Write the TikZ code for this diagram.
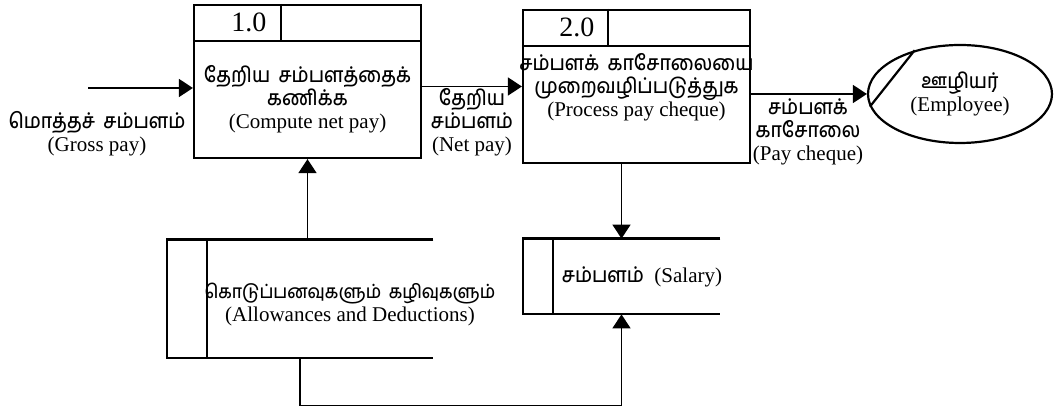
\documentclass[tikz,border=0pt]{standalone}
\usepackage{fontspec}
\setmainfont{Liberation Serif}
\newfontfamily\tamil[Script=Tamil,FakeStretch=0.9,WordSpace=1.8,UprightFont=* Medium]{Hind Madurai}
\usetikzlibrary{arrows.meta,shapes.geometric,calc,positioning}
\tikzstyle{process}=[draw,line width=1.1pt,minimum width=113.5pt,minimum height=76.5pt,inner sep=0pt]
\tikzstyle{store}=[inner sep=0pt]
\tikzstyle{flow}=[line width=0.8pt,-{Triangle[length=7pt,width=9pt]}]
\tikzstyle{flowtext}=[align=center,inner sep=0pt,font=\fontsize{10.5}{11.5}\selectfont]
\newcommand{\drawheader}[3]{
% header strip of a process box: #2 = width of number cell
\draw[line width=1.1pt] ([yshift=-18.5pt]#1.north west) -- ([yshift=-18.5pt]#1.north east);
\draw[line width=1.1pt] ([xshift=#2]#1.north west) -- ([xshift=#2,yshift=-18.5pt]#1.north west);
\node[font=\fontsize{14}{14}\selectfont,xshift=6pt] (#1num) at ($(#1.north west)!0.5!([xshift=#2,yshift=-18.5pt]#1.north west)$) {#3};
}
\newcommand{\drawstore}[2]{
\draw[line width=1.1pt] (#1.north east) -- (#1.north west) -- (#1.south west) -- (#1.south east);
\draw[line width=1.1pt] ([xshift=#2]#1.north west) -- ([xshift=#2]#1.south west);
}

\begin{document}
\begin{tikzpicture}[x=0.5pt,y=-0.5pt]
	\useasboundingbox[fill=white] (0,0) rectangle (1057,410);
	% processes
	\node[process] (p1) at (307.5,81.5) {};
	\drawheader{p1}{44pt}{1.0}
	\node[flowtext] (p1txt) at (307.5,99) {{\tamil தேறிய சம்பளத்தைக்}\\{\tamil கணிக்க}\\(Compute net pay)};
	\node[process] (p2) at (636.5,86.5) {};
	\drawheader{p2}{43pt}{2.0}
	\node[flowtext] (p2txt) at (636.5,87) {{\tamil சம்பளக் காசோலையை}\\{\tamil முறைவழிப்படுத்துக}\\(Process pay cheque)};
	% external entity
	\node[draw,ellipse,line width=1.1pt,minimum width=92pt,minimum height=49pt,flowtext] (emp) at (960,94) {{\tamil ஊழியர்}\\(Employee)};
	\draw[line width=1.1pt] (emp.136) -- (emp.188);
	% data stores
	\node[store,minimum width=133pt,minimum height=59pt] (s1) at (300,299) {};
	\drawstore{s1}{20pt}
	\node[flowtext] (s1txt) at (350,305) {{\tamil\fontsize{9.5}{11.5}\selectfont கொடுப்பனவுகளும் கழிவுகளும்}\\(Allowances and Deductions)};
	\node[store,minimum width=98.5pt,minimum height=37.5pt] (s2) at (621.5,276.5) {};
	\drawstore{s2}{15pt}
	\node[flowtext] (s2txt) at (642,277) {{\tamil சம்பளம்}\ \ (Salary)};
	% data flows
	\coordinate (gp) at (88,88);
	\draw[flow] (gp) -- (gp -| p1.west);
	\node[flowtext] (gptxt) at (97,134) {{\tamil மொத்தச் சம்பளம்}\\(Gross pay)};
	\draw[flow] (p2.west -| p1.east) -- (p2.west);
	\node[flowtext] (nptxt) at (472,122) {{\tamil தேறிய}\\{\tamil சம்பளம்}\\(Net pay)};
	\draw[flow] (p2.east |- emp.west) -- (emp.west);
	\node[flowtext] (pctxt) at (808,132) {{\tamil சம்பளக்}\\{\tamil காசோலை}\\(Pay cheque)};
	\draw[flow] (s1.north -| p1.south) -- (p1.south);
	\draw[flow] (p2.south -| s2.north) -- (s2.north);
	\draw[flow] (s1.south) -- ++(0,47) -| (s2.south);
\end{tikzpicture}
\end{document}
